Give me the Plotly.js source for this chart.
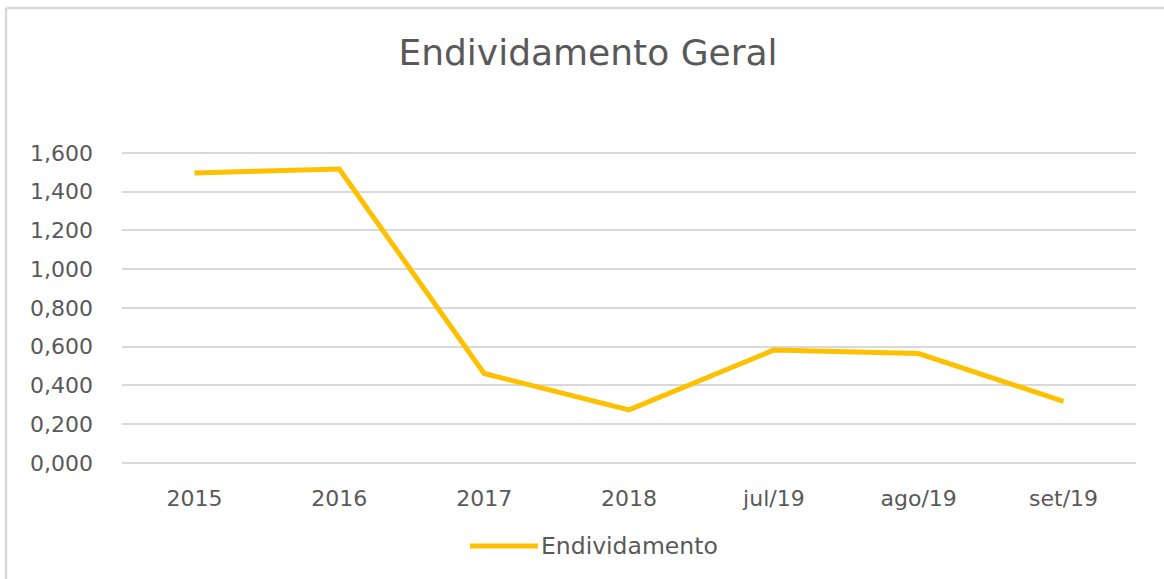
<!DOCTYPE html>
<html>
<head>
<meta charset="utf-8">
<script src="https://cdn.plot.ly/plotly-3.0.1.min.js"></script>
<style>html,body{margin:0;padding:0;background:#fff;}#chart{width:1164px;height:579px;}</style>
</head>
<body>
<div id="chart"></div>
<script>
const categories = ["2015", "2016", "2017", "2018", "jul/19", "ago/19", "set/19"];
const endividamento = [1.497, 1.517, 0.462, 0.274, 0.583, 0.565, 0.318];
const seriesName = "Endividamento";
const chartTitle = "Endividamento Geral";
const yTicks = [0, 0.2, 0.4, 0.6, 0.8, 1.0, 1.2, 1.4, 1.6];

const L = 122, R = 28, T = 151, B = 116, W = 1164, H = 579;
const pw = W - L - R, ph = H - T - B;
const px = v => (v - L) / pw;
const py = v => (H - B - v) / ph;

const fontFam = "'DejaVu Sans', sans-serif";
const grey = "#595959";
const lineColor = "#FFC000";

Plotly.newPlot("chart", [{
  x: categories,
  y: endividamento,
  type: "scatter",
  mode: "lines",
  name: seriesName,
  line: {color: lineColor, width: 5}
}], {
  width: W, height: H,
  margin: {l: L, r: R, t: T, b: B, pad: 0},
  separators: ",.",
  paper_bgcolor: "#fff",
  plot_bgcolor: "#fff",
  showlegend: false,
  title: {text: chartTitle, font: {family: fontFam, size: 36, color: grey}, x: 588 / W, xanchor: "center", y: 1 - 52 / H, yanchor: "middle"},
  xaxis: {
    type: "category",
    range: [-0.5, 6.5],
    showgrid: false, zeroline: false, showline: false,
    ticks: "", ticklabelstandoff: 20,
    tickfont: {family: fontFam, size: 22, color: grey},
    fixedrange: true
  },
  yaxis: {
    range: [0, 1.61],
    tickvals: yTicks,
    tickformat: ".3f",
    showgrid: true, gridcolor: "#d9d9d9", gridwidth: 2,
    zeroline: true, zerolinecolor: "#d9d9d9", zerolinewidth: 2,
    showline: false, ticks: "", ticklabelstandoff: 28,
    tickfont: {family: fontFam, size: 22, color: grey},
    fixedrange: true
  },
  annotations: [
    {xref: "paper", yref: "paper", x: px(539), y: py(546), xanchor: "left", yanchor: "middle",
     text: seriesName, showarrow: false, font: {family: fontFam, size: 23.5, color: grey}}
  ],
  shapes: [
    {type: "line", xref: "paper", yref: "paper", x0: px(470), x1: px(538), y0: py(546), y1: py(546), line: {color: lineColor, width: 5}},
    {type: "line", xref: "paper", yref: "paper", x0: px(6), x1: px(6), y0: py(600), y1: py(8), line: {color: "#d9d9d9", width: 2.5}},
    {type: "line", xref: "paper", yref: "paper", x0: px(6), x1: px(1200), y0: py(8), y1: py(8), line: {color: "#d9d9d9", width: 2.5}}
  ]
}, {displayModeBar: false, staticPlot: true});
</script>
</body>
</html>
